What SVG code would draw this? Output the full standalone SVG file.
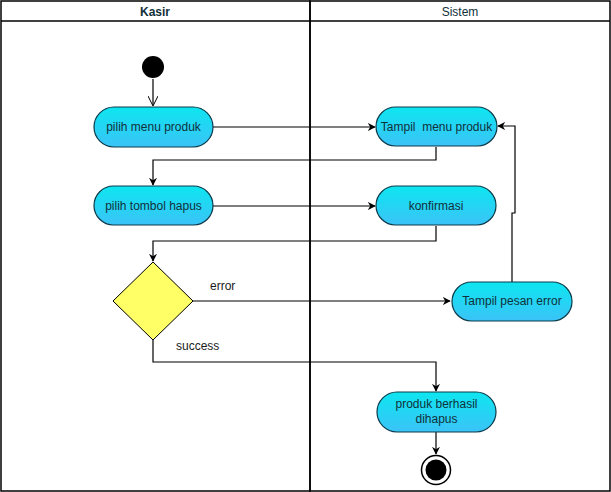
<svg xmlns="http://www.w3.org/2000/svg" width="611" height="492" viewBox="0 0 611 492">
<defs>
<linearGradient id="g" x1="0" y1="0" x2="0" y2="1">
<stop offset="0" stop-color="#0de6f0"/>
<stop offset="1" stop-color="#3bc3f7"/>
</linearGradient>
<marker id="a" viewBox="0 0 10 10" refX="9" refY="5" markerWidth="8" markerHeight="8" orient="auto" markerUnits="userSpaceOnUse">
<path d="M0,0 L10,5 L0,10 L3,5 Z" fill="#000"/>
</marker>
<marker id="o" viewBox="0 0 10 10" refX="9" refY="5" markerWidth="10" markerHeight="10" orient="auto" markerUnits="userSpaceOnUse">
<path d="M0,0 L10,5 L0,10" fill="none" stroke="#000" stroke-width="1"/>
</marker>
</defs>
<style>
.act{fill:url(#g);stroke:#0b3a4a;stroke-width:1.2}
.t{font-family:"Liberation Sans",Arial,sans-serif;font-size:12px;fill:#10303a;text-anchor:middle}
.lbl{font-family:"Liberation Sans",Arial,sans-serif;font-size:12px;fill:#1a1a1a}
.c{fill:none;stroke:#000;stroke-width:1.2}
</style>
<rect x="0" y="0" width="611" height="492" fill="#fff"/>
<g id="lanes">
<rect x="1" y="1" width="309" height="490" fill="none" stroke="#000" stroke-width="1.5"/>
<rect x="310" y="1" width="300" height="490" fill="none" stroke="#000" stroke-width="1.5"/>
<line x1="1" y1="21" x2="610" y2="21" stroke="#000" stroke-width="1.5"/>
<text x="155" y="16" class="t" font-weight="bold" font-size="13" fill="#000">Kasir</text>
<text x="460" y="16" class="t">Sistem</text>
</g>
<g id="connectors">
<line x1="153" y1="79" x2="153" y2="105" class="c" marker-end="url(#o)"/>
<line x1="213" y1="127" x2="375" y2="127" class="c" marker-end="url(#a)"/>
<path d="M436,147 V160 H153 V185" class="c" marker-end="url(#a)"/>
<line x1="213" y1="206" x2="375" y2="206" class="c" marker-end="url(#a)"/>
<path d="M436,226 V241 H153 V261" class="c" marker-end="url(#a)"/>
<line x1="193" y1="301" x2="450" y2="301" class="c" marker-end="url(#a)"/>
<path d="M512,282 V213 H515 V126 H498" class="c" marker-end="url(#a)"/>
<path d="M153,340 V362 H436 V391" class="c" marker-end="url(#a)"/>
<line x1="436" y1="432" x2="436" y2="454" class="c" marker-end="url(#a)"/>
<text x="210" y="290" class="lbl">error</text>
<text x="176" y="350" class="lbl">success</text>
</g>
<g id="start"><circle cx="153" cy="67" r="11" fill="#000"/></g>
<g id="pilih-menu"><rect x="94" y="107" width="119" height="40" rx="20" class="act"/><text x="153.5" y="131" class="t">pilih menu produk</text></g>
<g id="pilih-tombol"><rect x="94" y="186" width="119" height="39" rx="19.5" class="act"/><text x="153.5" y="210" class="t">pilih tombol hapus</text></g>
<g id="tampil-menu"><rect x="376" y="107" width="121" height="39" rx="19.5" class="act"/><text x="436.5" y="131" class="t" xml:space="preserve">Tampil  menu produk</text></g>
<g id="konfirmasi"><rect x="376" y="186" width="120" height="39" rx="19.5" class="act"/><text x="436" y="210" class="t">konfirmasi</text></g>
<g id="decision"><polygon points="153,262 193,301 153,340 113,301" fill="#ffff66" stroke="#000" stroke-width="1"/></g>
<g id="tampil-error"><rect x="452" y="282" width="120" height="39" rx="19.5" class="act"/><text x="512" y="305" class="t">Tampil pesan error</text></g>
<g id="berhasil"><rect x="377" y="392" width="119" height="40" rx="20" class="act"/><text x="436.5" y="408" class="t">produk berhasil</text><text x="436.5" y="423" class="t">dihapus</text></g>
<g id="end"><circle cx="436" cy="470" r="14.5" fill="#fff" stroke="#000" stroke-width="1.5"/><circle cx="436" cy="470" r="10.5" fill="#000"/></g>
</svg>
